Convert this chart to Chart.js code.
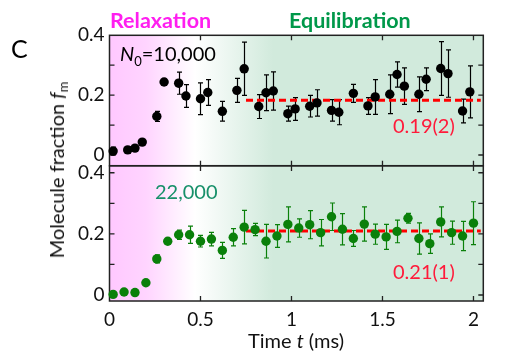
<!DOCTYPE html>
<html><head><meta charset="utf-8">
<script src="https://cdn.jsdelivr.net/npm/chart.js@4.4.1/dist/chart.umd.min.js"></script>
<style>
html,body{margin:0;padding:0;background:#fff}
body{width:505px;height:357px;overflow:hidden;position:relative;font-family:Lato,sans-serif;color:#111}
canvas{position:absolute;left:0;top:0}
.w{position:absolute;left:0;width:505px}
.t{position:absolute;white-space:nowrap;line-height:1}
</style></head><body>
<div class="w" style="top:0;height:167px"><canvas id="c1" width="505" height="167"></canvas></div>
<div class="w" style="top:160px;height:197px"><canvas id="c2" width="505" height="197"></canvas></div>

<div class="t" style="left:11px;top:36px;font-size:25px;color:#000">C</div>
<div class="t" style="left:110px;top:10px;font-size:21.5px;font-weight:bold;color:#ff1ef0">Relaxation</div>
<div class="t" style="left:289px;top:10px;font-size:21.5px;font-weight:bold;color:#00984a">Equilibration</div>
<div class="t" style="left:120px;top:43px;font-size:20px;color:#000"><i>N</i><sub style="font-size:13px;vertical-align:-5px">0</sub>=10,000</div>
<div class="t" style="left:155px;top:181px;font-size:20px;color:#17906a">22,000</div>
<div class="t" style="left:393px;top:115px;font-size:20px;color:#ff1a3a">0.19(2)</div>
<div class="t" style="left:393px;top:261px;font-size:20px;color:#ff1a3a">0.21(1)</div>
<div class="t" style="left:296px;top:339.5px;font-size:20px;transform:translate(-50%,-50%)">Time <i>t</i> (ms)</div>
<div class="t" style="left:58px;top:170px;font-size:20px;transform:translate(-50%,-50%) rotate(-90deg)">Molecule fraction <i>f</i><sub style="font-size:13px;vertical-align:-4px">m</sub></div>

<script>
// ---- data ----
const tTop = [0.02,0.10,0.14,0.18,0.26,0.30,0.38,0.42,0.50,0.54,0.62,0.70,0.74,0.82,0.86,0.90,0.98,1.02,1.10,1.14,1.22,1.26,1.34,1.42,1.46,1.54,1.58,1.62,1.70,1.74,1.82,1.86,1.94,1.98];
const fTop = [0.013,0.017,0.023,0.043,0.129,0.244,0.240,0.197,0.188,0.209,0.146,0.216,0.288,0.162,0.208,0.214,0.138,0.154,0.163,0.174,0.149,0.143,0.206,0.164,0.194,0.203,0.269,0.230,0.203,0.253,0.289,0.272,0.147,0.211];
const eTop = [0.013,0.010,0.008,0.008,0.017,0.010,0.037,0.038,0.053,0.043,0.033,0.040,0.089,0.040,0.060,0.064,0.025,0.038,0.036,0.044,0.036,0.042,0.030,0.028,0.058,0.065,0.042,0.061,0.058,0.038,0.090,0.079,0.040,0.087];

const tBot = [0.02,0.08,0.14,0.20,0.26,0.32,0.38,0.44,0.50,0.56,0.62,0.68,0.74,0.80,0.86,0.92,0.98,1.04,1.10,1.16,1.22,1.28,1.34,1.40,1.46,1.52,1.58,1.64,1.70,1.76,1.82,1.88,1.94,2.00];
const fBot = [0.002,0.010,0.008,0.040,0.118,0.176,0.197,0.197,0.176,0.183,0.146,0.189,0.222,0.214,0.176,0.193,0.231,0.219,0.230,0.204,0.256,0.215,0.185,0.232,0.199,0.190,0.208,0.251,0.185,0.168,0.239,0.204,0.193,0.235];
const eBot = [0.004,0.004,0.004,0.006,0.013,0.008,0.015,0.028,0.019,0.022,0.026,0.028,0.055,0.020,0.055,0.037,0.057,0.030,0.046,0.043,0.045,0.051,0.026,0.056,0.033,0.041,0.037,0.016,0.051,0.032,0.049,0.038,0.048,0.070];

const fitRange = [0.75, 2.04];
const fitTop = 0.183;
const fitBot = 0.209;

const xTicks = [0, 0.5, 1, 1.5, 2];
const xTickLabels = ['0','0.5','1','1.5','2'];
const yTicks = [0, 0.1, 0.2, 0.3, 0.4];
const yTickLabels = ['0','','0.2','','0.4'];

// ---- plugins ----
const bgStops = [[0,'#ffc8ff'],[0.2,'#ffd4ff'],[0.47,'#ffffff'],[0.9,'#d1eadc'],[2.1,'#d1eadc']];
const bgPlugin = {
  id:'bg',
  beforeDraw(chart){
    const {ctx, chartArea:a, scales:{x}} = chart;
    const g = ctx.createLinearGradient(a.left,0,a.right,0);
    bgStops.forEach(([t,c])=>{
      let p=(x.getPixelForValue(t)-a.left)/(a.right-a.left);
      p=Math.max(0,Math.min(1,p)); g.addColorStop(p,c);
    });
    ctx.save(); ctx.fillStyle=g; ctx.fillRect(a.left,a.top,a.right-a.left,a.bottom-a.top); ctx.restore();
  }
};
const framePlugin = {
  id:'frame',
  beforeDatasetsDraw(chart){
    const {ctx, chartArea:a, scales:{x,y}} = chart;
    ctx.save(); ctx.strokeStyle='#222'; ctx.lineWidth=1.3;
    ctx.beginPath();
    xTicks.forEach(v=>{const px=x.getPixelForValue(v); if(px<a.left+2||px>a.right-2) return;
      ctx.moveTo(px,a.top);ctx.lineTo(px,a.top+5);ctx.moveTo(px,a.bottom);ctx.lineTo(px,a.bottom-5);});
    yTicks.forEach(v=>{const py=y.getPixelForValue(v); if(py<a.top+2||py>a.bottom-2) return;
      ctx.moveTo(a.left,py);ctx.lineTo(a.left+5,py);ctx.moveTo(a.right,py);ctx.lineTo(a.right-5,py);});
    ctx.stroke();
    ctx.lineWidth=1.5;
    ctx.strokeRect(a.left,a.top,a.right-a.left,a.bottom-a.top);
    ctx.restore();
  }
};
const errPlugin = {
  id:'err',
  beforeDatasetsDraw(chart){
    const {ctx, scales:{x,y}} = chart;
    chart.data.datasets.forEach(ds=>{
      if(!ds.err) return;
      ctx.save(); ctx.strokeStyle=ds.backgroundColor; ctx.lineWidth=1.2;
      ctx.beginPath();
      ds.data.forEach((p,i)=>{
        const e=ds.err[i]; const px=Math.round(x.getPixelForValue(p.x))+0.5;
        const y1=y.getPixelForValue(p.y-e), y2=y.getPixelForValue(p.y+e);
        ctx.moveTo(px,y1);ctx.lineTo(px,y2);
        ctx.moveTo(px-2.5,y1);ctx.lineTo(px+2.5,y1);
        ctx.moveTo(px-2.5,y2);ctx.lineTo(px+2.5,y2);
      });
      ctx.stroke(); ctx.restore();
    });
  }
};

function makeChart(id, ts, fs, es, color, fit, ymin, ymax, pad, showX){
  return new Chart(document.getElementById(id), {
    type:'scatter',
    data:{datasets:[
      {data:ts.map((t,i)=>({x:t,y:fs[i]})), err:es, backgroundColor:color, borderWidth:0, pointRadius:4.7, clip:false},
      {type:'line', data:fitRange.map(t=>({x:t,y:fit})), borderColor:'#ff0000', borderWidth:3, borderDash:[7,4], pointRadius:0, fill:false}
    ]},
    options:{
      responsive:false, animation:false, devicePixelRatio:1,
      events:[],
      layout:{padding:pad, autoPadding:false},
      plugins:{legend:{display:false}, tooltip:{enabled:false}},
      scales:{
        x:{type:'linear', min:0, max:2.054, display:showX,
          grid:{display:false, drawTicks:false}, border:{display:false},
          afterBuildTicks(s){ s.ticks = xTicks.map(v=>({value:v})); },
          afterFit(s){ s.height = showX?56:0; s.paddingLeft=0; s.paddingRight=0; },
          ticks:{autoSkip:false, maxRotation:0, padding:7, color:'#111', font:{family:'Lato', size:19},
            callback:(v,i)=>xTickLabels[i]}
        },
        y:{type:'linear', min:ymin, max:ymax,
          grid:{display:false, drawTicks:false}, border:{display:false},
          afterBuildTicks(s){ s.ticks = yTicks.map(v=>({value:v})); },
          afterFit(s){ s.width = 109.5; s.paddingTop=0; s.paddingBottom=0; },
          ticks:{autoSkip:false, padding:5, color:'#111', font:{family:'Lato', size:19},
            callback:(v,i)=>yTickLabels[i]}
        }
      }
    },
    plugins:[bgPlugin, framePlugin, errPlugin]
  });
}

makeChart('c1', tTop, fTop, eTop, '#000000', fitTop, -0.0358, 0.4, {top:35.3, right:21.7, bottom:1.3, left:0}, false);
makeChart('c2', tBot, fBot, eBot, '#0a800a', fitBot, -0.0196, 0.422, {top:6, right:21.7, bottom:0, left:0}, true);
</script>
</body></html>
